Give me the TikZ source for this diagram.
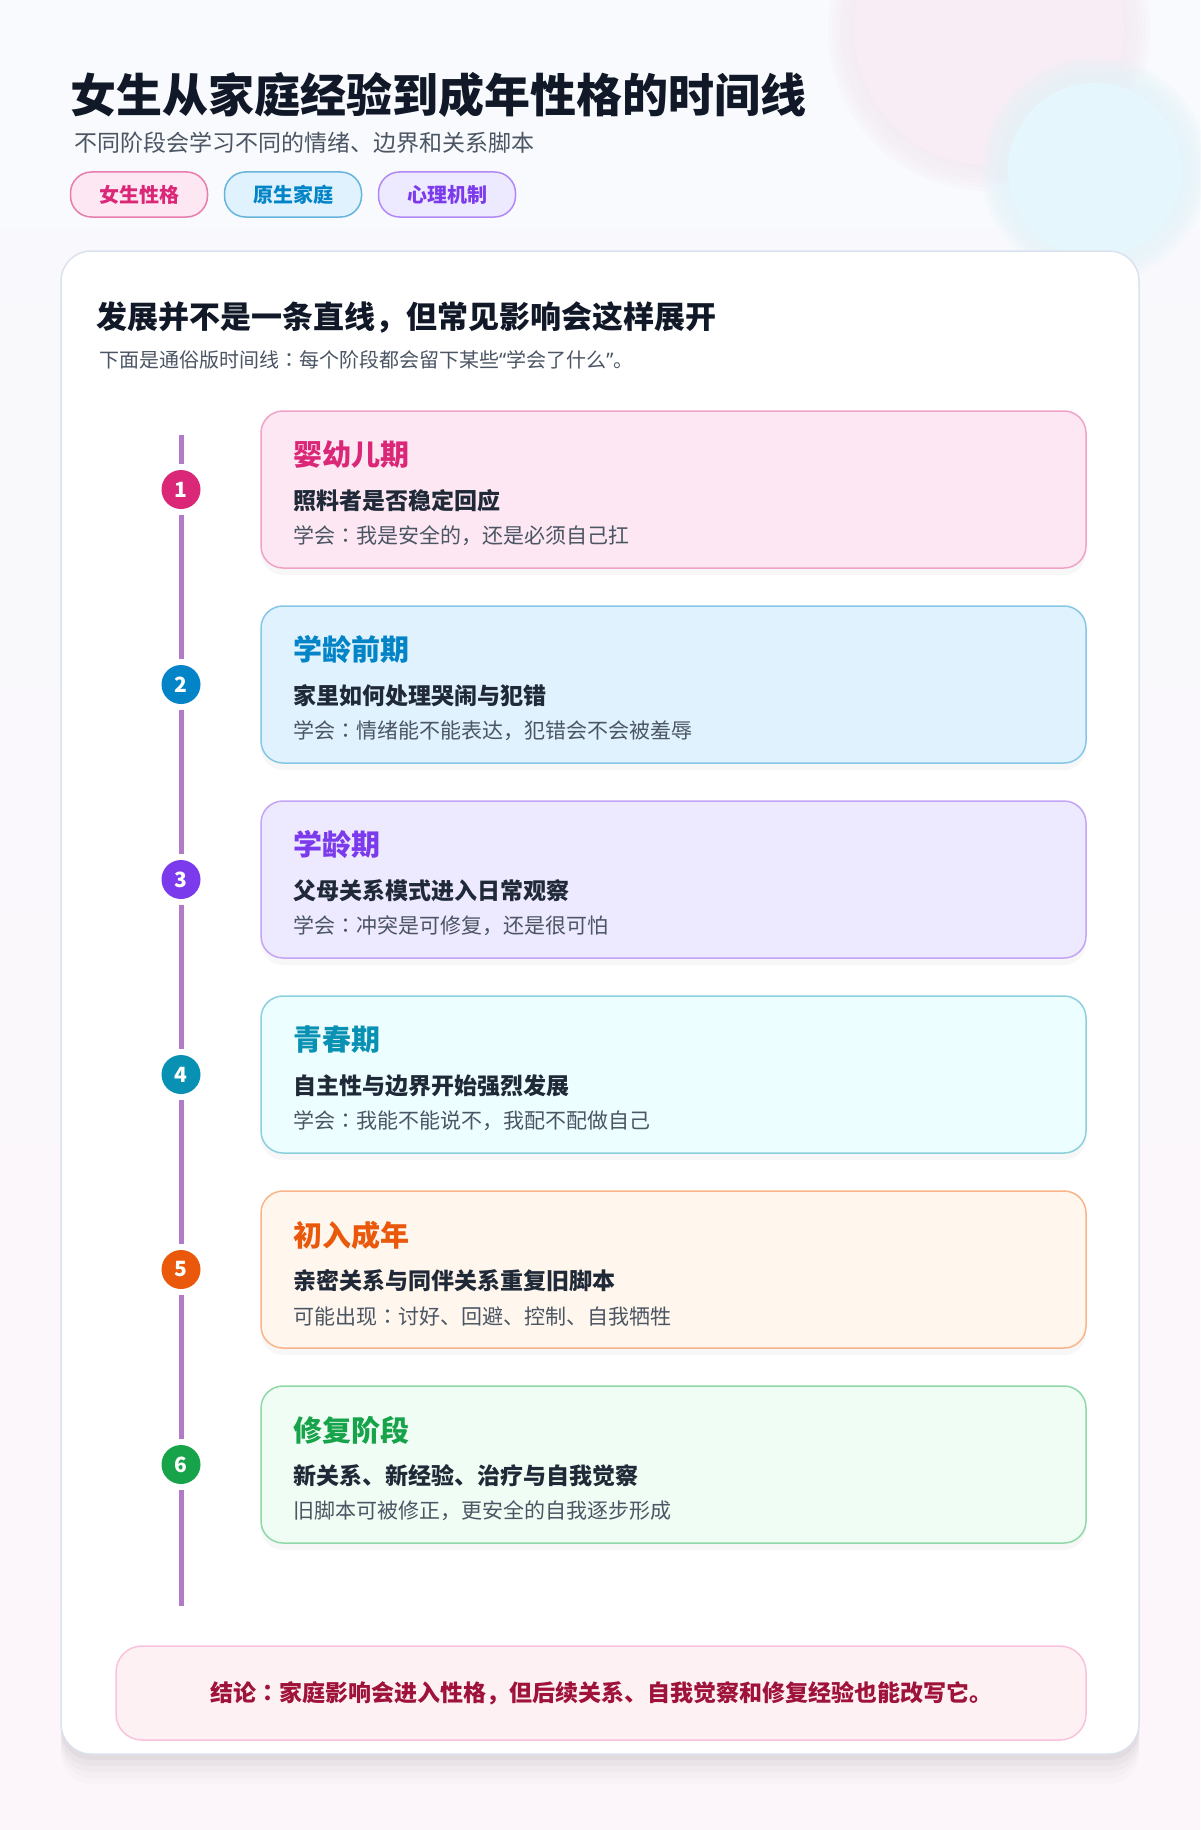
\documentclass[tikz,border=0pt]{standalone}
\usepackage{fontspec}
\setmainfont{Noto Sans CJK SC}
\newfontfamily\cjkjp{Noto Sans CJK JP}
\newfontfamily\latinfont{Noto Sans}
\usepackage{xcolor}
\usetikzlibrary{calc,positioning}

\definecolor{inkdark}{HTML}{111827}
\definecolor{inksub}{HTML}{1F2937}
\definecolor{inkgray}{HTML}{4B5563}
\definecolor{pagetop}{HTML}{F8FAFD}
\definecolor{pagebottom}{HTML}{FCF6FA}
\definecolor{paneledge}{HTML}{DAE2EF}
\definecolor{tlpurple}{HTML}{B27BC9}
\definecolor{blobpink}{HTML}{F8ECF5}
\definecolor{blobcyan}{HTML}{E5F7FC}
\definecolor{blobhalo}{HTML}{E6E8EF}
\definecolor{pinkmain}{HTML}{DB2777}
\definecolor{pinkfill}{HTML}{FCE7F3}
\definecolor{pinkedge}{HTML}{F0A3C6}
\definecolor{bluemain}{HTML}{0284C7}
\definecolor{bluefill}{HTML}{E0F2FE}
\definecolor{blueedge}{HTML}{86C6E6}
\definecolor{violetmain}{HTML}{7C3AED}
\definecolor{violetfill}{HTML}{EDE9FE}
\definecolor{violetedge}{HTML}{C4A4F6}
\definecolor{cyanmain}{HTML}{0891B2}
\definecolor{cyanfill}{HTML}{ECFEFF}
\definecolor{cyanedge}{HTML}{8CCFDD}
\definecolor{orangemain}{HTML}{EA580C}
\definecolor{orangefill}{HTML}{FFF7ED}
\definecolor{orangeedge}{HTML}{F9B48A}
\definecolor{greenmain}{HTML}{16A34A}
\definecolor{greenfill}{HTML}{F0FDF4}
\definecolor{greenedge}{HTML}{8FD8A8}
\definecolor{notefill}{HTML}{FEF1F3}
\definecolor{noteedge}{HTML}{F9C2DD}
\definecolor{notetext}{HTML}{9F1239}

\newcommand\sizept[1]{\fontsize{#1}{#1}\selectfont}
\newcommand\jpcolon{{\cjkjp ：}}
\newcommand\openq{{\latinfont “}}
\newcommand\closeq{{\latinfont ”}}

\begin{document}
\begin{tikzpicture}[
      x=1pt, y=-1pt,
      node distance=38pt and 17pt,
      pagetitle/.style={anchor=west, inner sep=0pt, font=\sizept{46}\bfseries, text=inkdark},
      pagesub/.style={anchor=west, inner sep=0pt, font=\sizept{23}, text=inkgray},
      tag/.style={draw=#1main!60, fill=#1fill, text=#1main, line width=1.5pt,
        rounded corners=21pt, minimum width=137pt, minimum height=45pt,
        inner sep=0pt, outer sep=0pt, font=\sizept{20}\bfseries},
      panel/.style={draw=paneledge, fill=white, line width=1.5pt, rounded corners=30pt,
        minimum width=1078pt, minimum height=1503pt, outer sep=0pt},
      lead/.style={anchor=west, inner sep=0pt, font=\sizept{31}\bfseries, text=inkdark},
      leadsub/.style={anchor=west, inner sep=0pt, font=\sizept{20}, text=inkgray},
      stagecard/.style={draw=#1edge, fill=#1fill, line width=1.5pt, rounded corners=22pt,
        minimum width=825pt, minimum height=157pt, outer sep=0pt,
        preaction={fill=black, opacity=0.03, transform canvas={yshift=-7pt}}},
      stagetitle/.style={anchor=west, inner sep=0pt, font=\sizept{29}\bfseries, text=#1},
      stagehead/.style={anchor=west, inner sep=0pt, font=\sizept{23}\bfseries, text=inksub},
      stagetext/.style={anchor=west, inner sep=0pt, font=\sizept{21}, text=inkgray},
      stagedot/.style={circle, fill=#1, text=white, minimum size=39pt, inner sep=0pt,
        font=\sizept{21}\bfseries},
      tline/.style={draw=tlpurple, line width=5pt},
      notebox/.style={draw=noteedge, fill=notefill, line width=1.5pt, rounded corners=26pt,
        minimum width=970pt, minimum height=94pt, outer sep=0pt,
        font=\sizept{23}\bfseries, text=notetext}
    ]
    \useasboundingbox (0,0) rectangle (1200,1830);
    \shade[top color=pagetop, bottom color=pagebottom] (0,0) rectangle (1200,1830);

    % soft blobs top right
    \foreach \grow in {18,14,10,6,2,-2,-6} {
      \fill[blobpink!80!blobhalo, opacity=0.22] (989,30) circle ({143+\grow});
    }
    \fill[blobpink] (989,30) circle (135);
    \foreach \grow in {18,14,10,6,2,-2,-6} {
      \fill[blobcyan!80!blobhalo, opacity=0.22] (1095,170) circle ({95+\grow});
    }
    \fill[blobcyan] (1095,170) circle (87);

    % header
    \node[pagetitle] (title) at (70,95) {女生从家庭经验到成年性格的时间线};
    \node[pagesub] (subtitle) at (74,143) {不同阶段会学习不同的情绪、边界和关系脚本};
    \node[tag=pink] (tagtrait) at (139,194.5) {女生性格};
    \node[tag=blue, right=of tagtrait] (tagfamily) {原生家庭};
    \node[tag=violet, right=of tagfamily] (tagmind) {心理机制};

    % white panel with soft shadow
    \foreach \dy/\op in {30/0.012,24/0.015,18/0.02,12/0.025,6/0.03} {
      \fill[black, opacity=\op, rounded corners=30pt] (61,{251+\dy}) rectangle (1139,{1754+\dy});
    }
    \node[panel] (board) at (600,1002.5) {};
    \node[lead] (lead) at (96,318) {发展并不是一条直线，但常见影响会这样展开};
    \node[leadsub] (leadsub) at (99,360) {下面是通俗版时间线\jpcolon 每个阶段都会留下某些\openq 学会了什么\closeq 。};

    % stage cards
    \node[stagecard=pink] (infant) at (673.5,489.5) {};
    \node[stagecard=blue, below=of infant] (preschool) {};
    \node[stagecard=violet, below=of preschool] (school) {};
    \node[stagecard=cyan, below=of school] (teen) {};
    \node[stagecard=orange, below=of teen] (adult) {};
    \node[stagecard=green, below=of adult] (repair) {};

    \node[stagetitle=pinkmain] (infant title) at ($(infant.north west)+(32,44)$) {婴幼儿期};
    \node[stagehead] (infant head) at ($(infant.north west)+(32,90)$) {照料者是否稳定回应};
    \node[stagetext] (infant text) at ($(infant.north west)+(32,125)$) {学会\jpcolon 我是安全的，还是必须自己扛};

    \node[stagetitle=bluemain] (preschool title) at ($(preschool.north west)+(32,44)$) {学龄前期};
    \node[stagehead] (preschool head) at ($(preschool.north west)+(32,90)$) {家里如何处理哭闹与犯错};
    \node[stagetext] (preschool text) at ($(preschool.north west)+(32,125)$) {学会\jpcolon 情绪能不能表达，犯错会不会被羞辱};

    \node[stagetitle=violetmain] (school title) at ($(school.north west)+(32,44)$) {学龄期};
    \node[stagehead] (school head) at ($(school.north west)+(32,90)$) {父母关系模式进入日常观察};
    \node[stagetext] (school text) at ($(school.north west)+(32,125)$) {学会\jpcolon 冲突是可修复，还是很可怕};

    \node[stagetitle=cyanmain] (teen title) at ($(teen.north west)+(32,44)$) {青春期};
    \node[stagehead] (teen head) at ($(teen.north west)+(32,90)$) {自主性与边界开始强烈发展};
    \node[stagetext] (teen text) at ($(teen.north west)+(32,125)$) {学会\jpcolon 我能不能说不，我配不配做自己};

    \node[stagetitle=orangemain] (adult title) at ($(adult.north west)+(32,44)$) {初入成年};
    \node[stagehead] (adult head) at ($(adult.north west)+(32,90)$) {亲密关系与同伴关系重复旧脚本};
    \node[stagetext] (adult text) at ($(adult.north west)+(32,125)$) {可能出现\jpcolon 讨好、回避、控制、自我牺牲};

    \node[stagetitle=greenmain] (repair title) at ($(repair.north west)+(32,44)$) {修复阶段};
    \node[stagehead] (repair head) at ($(repair.north west)+(32,90)$) {新关系、新经验、治疗与自我觉察};
    \node[stagetext] (repair text) at ($(repair.north west)+(32,125)$) {旧脚本可被修正，更安全的自我逐步形成};

    % timeline
    \coordinate (tltop) at (181,435);
    \coordinate (tlend) at (181,1606);
    \node[stagedot=pinkmain] (dot1) at (tltop |- infant.west) {1};
    \node[stagedot=bluemain] (dot2) at (tltop |- preschool.west) {2};
    \node[stagedot=violetmain] (dot3) at (tltop |- school.west) {3};
    \node[stagedot=cyanmain] (dot4) at (tltop |- teen.west) {4};
    \node[stagedot=orangemain] (dot5) at (tltop |- adult.west) {5};
    \node[stagedot=greenmain] (dot6) at (tltop |- repair.west) {6};

    \draw[tline, shorten >=6pt] (tltop) -- (dot1);
    \draw[tline, shorten <=6pt, shorten >=6pt] (dot1) -- (dot2);
    \draw[tline, shorten <=6pt, shorten >=6pt] (dot2) -- (dot3);
    \draw[tline, shorten <=6pt, shorten >=6pt] (dot3) -- (dot4);
    \draw[tline, shorten <=6pt, shorten >=6pt] (dot4) -- (dot5);
    \draw[tline, shorten <=6pt, shorten >=6pt] (dot5) -- (dot6);
    \draw[tline, shorten <=6pt] (dot6) -- (tlend);

    % conclusion
    \node[notebox] (note) at (601,1693) {结论\jpcolon 家庭影响会进入性格，但后续关系、自我觉察和修复经验也能改写它。};
  \end{tikzpicture}
\end{document}
